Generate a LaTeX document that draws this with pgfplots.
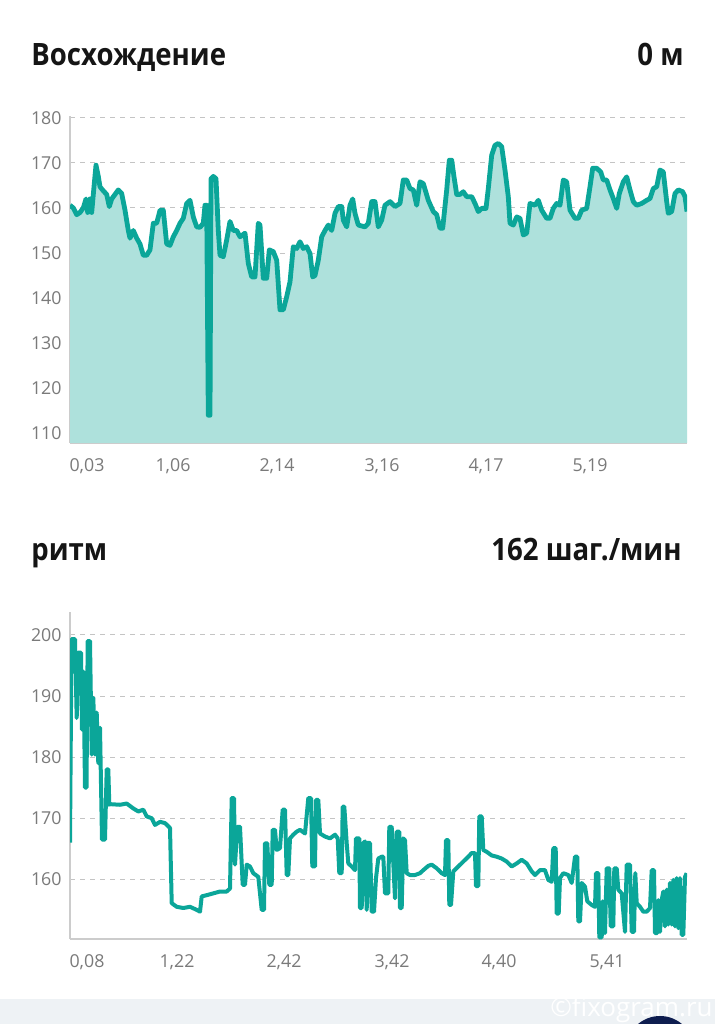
\documentclass[border=0pt]{standalone}
\usepackage{pgfplots}
\pgfplotsset{compat=1.18}
\usepackage{fontspec}
\setmainfont{Open Sans}
\newfontfamily\titlefont[FakeStretch=0.895]{Open Sans}
\definecolor{teal1}{HTML}{0BA699}
\definecolor{fill1}{HTML}{AEE1DC}
\definecolor{gridc}{HTML}{C4C4C4}
\definecolor{axc}{HTML}{CCCCCC}
\definecolor{tickc}{HTML}{7A7A7A}
\definecolor{titlec}{HTML}{151515}
\definecolor{band}{HTML}{EEF2F5}
\definecolor{navy}{HTML}{0E1D4F}
\pgfplotsset{mystyle/.style={
  scale only axis, width=308.5pt,
  xmin=70, xmax=687,
  axis x line*=bottom, axis y line*=left,
  axis line style={draw=axc, line width=0.8pt},
  major tick length=0pt,
  ymajorgrids,
  grid style={draw=gridc, line width=0.5pt, dash pattern=on 2.5pt off 2.5pt},
  tick label style={font=\fontsize{8.9pt}{10pt}\selectfont, text=tickc},
  yticklabel style={inner sep=0pt, anchor=east, xshift=-4pt},
  xticklabel style={inner sep=0pt, anchor=north, yshift=-7.5pt},
  /pgf/number format/assume math mode=true,
}}
\pgfplotstableread{
x y
70 160.6
73.3 160
76.7 158.5
80 159
83.3 160
86 162
87.7 159
90 162
91.7 159
94 164.7
96 169.5
98.3 167
100 164.7
103.3 163.8
106.7 163
109.3 160.3
111.7 162
115 163
118.3 164
121.7 163.2
125 159.5
128.3 155
130 153.3
133.3 155
136.7 153.3
140 152
143.3 149.5
146.7 149.5
150 150.7
153.3 156.6
156.7 156.6
160 159.5
163.3 159.5
166.7 152
170 151.7
173.3 153.6
176.7 155
180 156.6
183.3 157.7
186.7 161
190 161.7
193.3 158
196.7 155.8
200 155.7
203.3 156.6
205 160.6
206.7 160.6
208.3 114
210 114
211 166.5
213.3 167
216 166.5
218.3 155
220 149.5
223.3 149.2
226.7 152.9
230 157
233.3 155
236.7 155
240 153.6
245 154.4
248.3 147.7
251.7 144.7
255 144.7
258.3 156.6
260 156.2
263.3 144.4
266.7 144.4
269.3 150.7
273.3 150.3
276.7 148.4
280 137.4
283.3 137.4
286.7 140.3
290 143.6
293.3 151.4
296.7 151
300 152.5
303.3 151
306.7 151.4
310 149.9
312.7 144.7
315 145
318.3 148.4
321.7 153.6
325 155
328.3 156.2
331.7 155
335 158.8
338.3 160.3
341.7 160.3
343.3 157.3
346.7 155.8
350 160.6
352.7 162
355 158.8
358.3 156.2
365 155.8
368.3 156.6
371.7 161.4
375 161.4
378.3 155.8
381.7 157.3
385 160.6
390 161.4
395 160.3
400 161
403.3 166.2
406.7 166.2
410 164.3
413.3 164
416.7 160.6
420 165.8
423.3 165.4
428.3 161.7
433.3 159.2
436.7 158.5
440 155.5
442.7 155.5
446.7 164
449.3 170.6
451.7 170.6
454 166.9
456.7 163
460 163
463.3 163.6
466.7 162.5
471.7 162.5
475 161
478.3 159.2
481.7 159.9
486 159.9
488.3 164.3
491.7 171.7
495 173.9
498.3 174.3
501.7 173.6
505 168.4
508.3 162.5
510 156.6
513.3 156.2
516.7 158
520 157.7
523.3 154
526.7 154.4
530 161
535 160.6
538.3 161.7
541.7 159.5
546.7 157.7
550 157.7
553.3 159.9
556.7 161
560 160.6
563.3 166.2
566.7 165.8
570 159.5
575 157.7
578.3 157.7
581.7 159.5
586.7 159.9
590 164.7
592.7 168.8
596.7 168.8
600.7 168
603.3 166.2
606.7 166.2
610 164
613.3 162.1
616.7 159.9
619.3 163.2
623.3 165.8
626.7 166.9
630 164
633.3 161.4
636.7 160.6
641.7 161
646.7 161.7
650 162.1
653.3 164.3
656.7 164.7
660 168.4
663.3 168
666.7 161.4
668.3 158.8
671.7 159.2
675 163.2
678.3 164
682.7 163.6
685 162.5
687 159.2
}\elev
\pgfplotstableread{
x y
70 166
71.5 199.3
75 199.3
76.7 186.4
78.3 197.1
81 197.1
82 184.5
83.5 194
85 175
86.5 175
87.7 199
90 199
91.7 180.4
93.3 189.7
95 180.4
96.7 187.3
98.3 179
100 184.8
102 166.5
105 166.5
106.7 178
108.3 178
109.3 172.2
110 172.3
120 172.2
126.7 172.4
133.3 171.6
138.3 171.1
143.3 171.4
146.7 170.3
151.7 170
155 168.9
160 169.4
165 169.2
170 168.4
171.7 156.1
176.7 155.5
183.3 155.3
190 155.5
196.7 155
200 154.7
201.7 157.2
206.7 157.4
213.3 157.7
220 158
226.7 158
230 158.5
231.7 173.3
234 173.3
235 162.4
237.3 168.6
240 168.6
242.7 159.1
245 159.1
246.7 162.4
250 162.1
253.3 161
258.3 160.4
261.7 155
264 155
265 165.9
267.3 165.9
269.3 159.1
271.7 159.1
272.7 168.1
275 168.1
276.7 164.8
280 165.1
282.7 171.4
285 171.4
286.7 160.7
288.3 160.7
290 166.7
293.3 167.3
296.7 167.8
300 168.1
305 167.5
308.3 173.3
311 173.3
312.3 162.1
315 162.1
316 173
318.3 173
320 167.5
325 167
330 166.7
335 167.3
337.7 166.7
339.3 161
341.7 161
342.7 171.9
344.3 171.9
346.7 165.9
348.3 162.6
351.7 162.1
355 161.5
356 166.7
359.3 166.7
360 155.3
361.7 155.3
363.3 165.9
365 166.2
366.7 155
368.3 166
370 165.9
371.7 154.7
374 154.7
376 160.2
378.3 163.4
381.7 163.7
383.3 163.7
385 157.7
388.3 157.7
389.3 168.6
391.7 168.6
393.3 162.6
395 156.9
396.7 167.8
399.3 167.8
400 155.3
401.7 155.3
403.3 166.7
405 166.4
406.7 161
410 160.7
415 160.7
420 161
423.3 161.5
428.3 162.2
431.7 162.4
436.7 161.8
441.7 161
445 160.7
446 166.4
448.3 166.4
449.3 155.8
451 155.8
453.3 161.3
458.3 162.1
463.3 162.9
468.3 163.7
471.7 164.3
475 164.3
476 158.9
478.3 158.9
479.3 170.3
481.7 170.3
483.3 164.8
486.7 164.5
491.7 163.9
496.7 163.7
501.7 163.4
506.7 162.9
511.7 162.1
516.7 162.6
521.7 163.2
526.7 162.6
531.7 161.3
535 160.7
540 161.5
545 161.5
548.3 159.9
551.7 159.6
553.3 165.1
555.7 165.1
556.7 154.4
558.7 154.4
560 160.2
563.3 161
568.3 160.7
571.7 159.4
575 163.7
577.3 163.7
578.3 153.1
580 153.1
581.7 159.4
585 158.8
587.3 156.4
591.7 155.8
595 155.5
596 161
598.3 161
599.3 150.5
601.7 150.5
602.7 156.4
605 151.2
606.7 161.8
609.3 161.8
610.7 152.3
613.3 152.3
614.3 161.8
616.7 161.8
618.3 158.3
621.7 157.7
625 151.4
626.7 162.4
630 162.4
631.7 151.4
634 151.4
635.3 161
636.7 156.1
640 155.5
643.3 154.7
646.7 154.7
650 155.3
651.7 161.5
654 161.5
655 151.2
657.3 151.2
658.3 156.6
660 151.4
661.7 156.6
663.3 158
665 152.3
666.7 158.3
668.3 152.6
670 159.4
671.7 152.6
673.3 159.9
675 152.3
676.7 160.2
678.3 152
680 160.2
681.7 150.9
683.3 150.9
685 160.4
686.7 161
}\cad
\begin{document}
\begin{tikzpicture}
\path[use as bounding box] (0,0) rectangle (357.5pt,512pt);
\clip (0,0) rectangle (357.5pt,512pt);
\fill[white] (0,0) rectangle (357.5pt,512pt);
% titles
\node[anchor=base west, inner sep=0pt, text=titlec, font=\titlefont\fontsize{15.4pt}{17pt}\selectfont\bfseries] at (15.5pt,479pt) {Восхождение};
\node[anchor=base east, inner sep=0pt, text=titlec, font=\titlefont\fontsize{15.4pt}{17pt}\selectfont\bfseries] at (342pt,479pt) {0 м};
\node[anchor=base west, inner sep=0pt, text=titlec, font=\titlefont\fontsize{15.4pt}{17pt}\selectfont\bfseries] at (15.5pt,231.5pt) {ритм};
\node[anchor=base east, inner sep=0pt, text=titlec, font=\titlefont\fontsize{15.4pt}{17pt}\selectfont\bfseries] at (341pt,231.5pt) {162 шаг./мин};
% elevation chart
\begin{axis}[mystyle, at={(35pt,290.5pt)}, anchor=south west,
  height=163.5pt, ymin=107.85, ymax=180.4,
  ytick={110,120,130,140,150,160,170,180},
  xtick={87,173,277,382,486,590},
  xticklabels={{0,03},{1,06},{2,14},{3,16},{4,17},{5,19}}]
\addplot[fill=fill1, draw=none] table[x=x,y=y] {\elev} \closedcycle;
\addplot[teal1, line width=2.4pt, line join=round] table[x=x,y=y] {\elev};
\end{axis}
% cadence chart
\begin{axis}[mystyle, at={(35pt,42.5pt)}, anchor=south west,
  height=163.65pt, ymin=150.23, ymax=203.8,
  ytick={160,170,180,190,200},
  xtick={87,177,284,392,499,607},
  xticklabels={{0,08},{1,22},{2,42},{3,42},{4,40},{5,41}}]
\addplot[teal1, line width=2pt, line join=round] table[x=x,y=y] {\cad};
\end{axis}
% bottom band
\fill[band] (0,0) rectangle (357.5pt,12.5pt);
\fill[navy] (330pt,-13pt) circle (17pt);
\node[anchor=base east, inner sep=0pt, text=white, font=\fontsize{13pt}{14pt}\selectfont] at (356.5pt,3.6pt) {©fixogram.ru};
\end{tikzpicture}
\end{document}
